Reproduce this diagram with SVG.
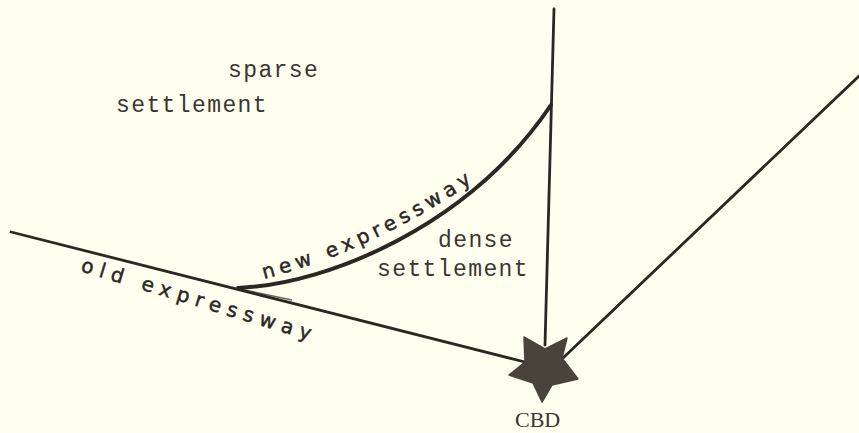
<svg xmlns="http://www.w3.org/2000/svg" width="859" height="433" viewBox="0 0 859 433">
<style>
.road{fill:none;stroke:#2b2723;stroke-width:2.8;stroke-linecap:round}
.type{font-family:"Liberation Mono",monospace;font-size:23px;letter-spacing:1.4px;fill:#3a3632}
.serif{font-family:"Liberation Serif",serif;font-size:22px;fill:#3a3632}
.hand{font-family:"DejaVu Sans",sans-serif;font-size:20px;fill:#2b2723;stroke:#2b2723;stroke-width:.5}
</style>
<defs>
<path id="newLabel" d="M264 279 Q380 249 490 170"/>
<path id="oldLabel" d="M80 271 L335 348"/>
</defs>
<rect width="859" height="433" fill="#fffff0"/>
<g id="connectors">
<path class="road" d="M11 232 L525 362"/>
<path class="road" d="M554 9 L545 345"/>
<path class="road" d="M859 76 L563 358"/>
<path d="M238 288 C330 284 470 225 551 105" fill="none" stroke="#2b2723" stroke-width="4" stroke-linecap="round"/>
<path d="M240 289 L292 300" fill="none" stroke="#2b2723" stroke-width="1.5" opacity=".7"/>
</g>
<g id="star"><path d="M524 337 L545 349 L567 338 L562 358 L578 379 L552 385 L542 402 L533 383 L509 375 L525 362 Z" fill="#4a433c" stroke="#4a433c" stroke-width="1.5" stroke-linejoin="round"/></g>
<g id="label-sparse"><text class="type" x="228" y="77">sparse</text><text class="type" x="116" y="112">settlement</text></g>
<g id="label-dense"><text class="type" x="438" y="247">dense</text><text class="type" x="377" y="276">settlement</text></g>
<g id="label-cbd"><text class="serif" x="515" y="427">CBD</text></g>
<g id="label-old"><text class="hand" letter-spacing="6.5"><textPath href="#oldLabel">old expressway</textPath></text></g>
<g id="label-new"><text class="hand" letter-spacing="5"><textPath href="#newLabel">new expressway</textPath></text></g>
</svg>
